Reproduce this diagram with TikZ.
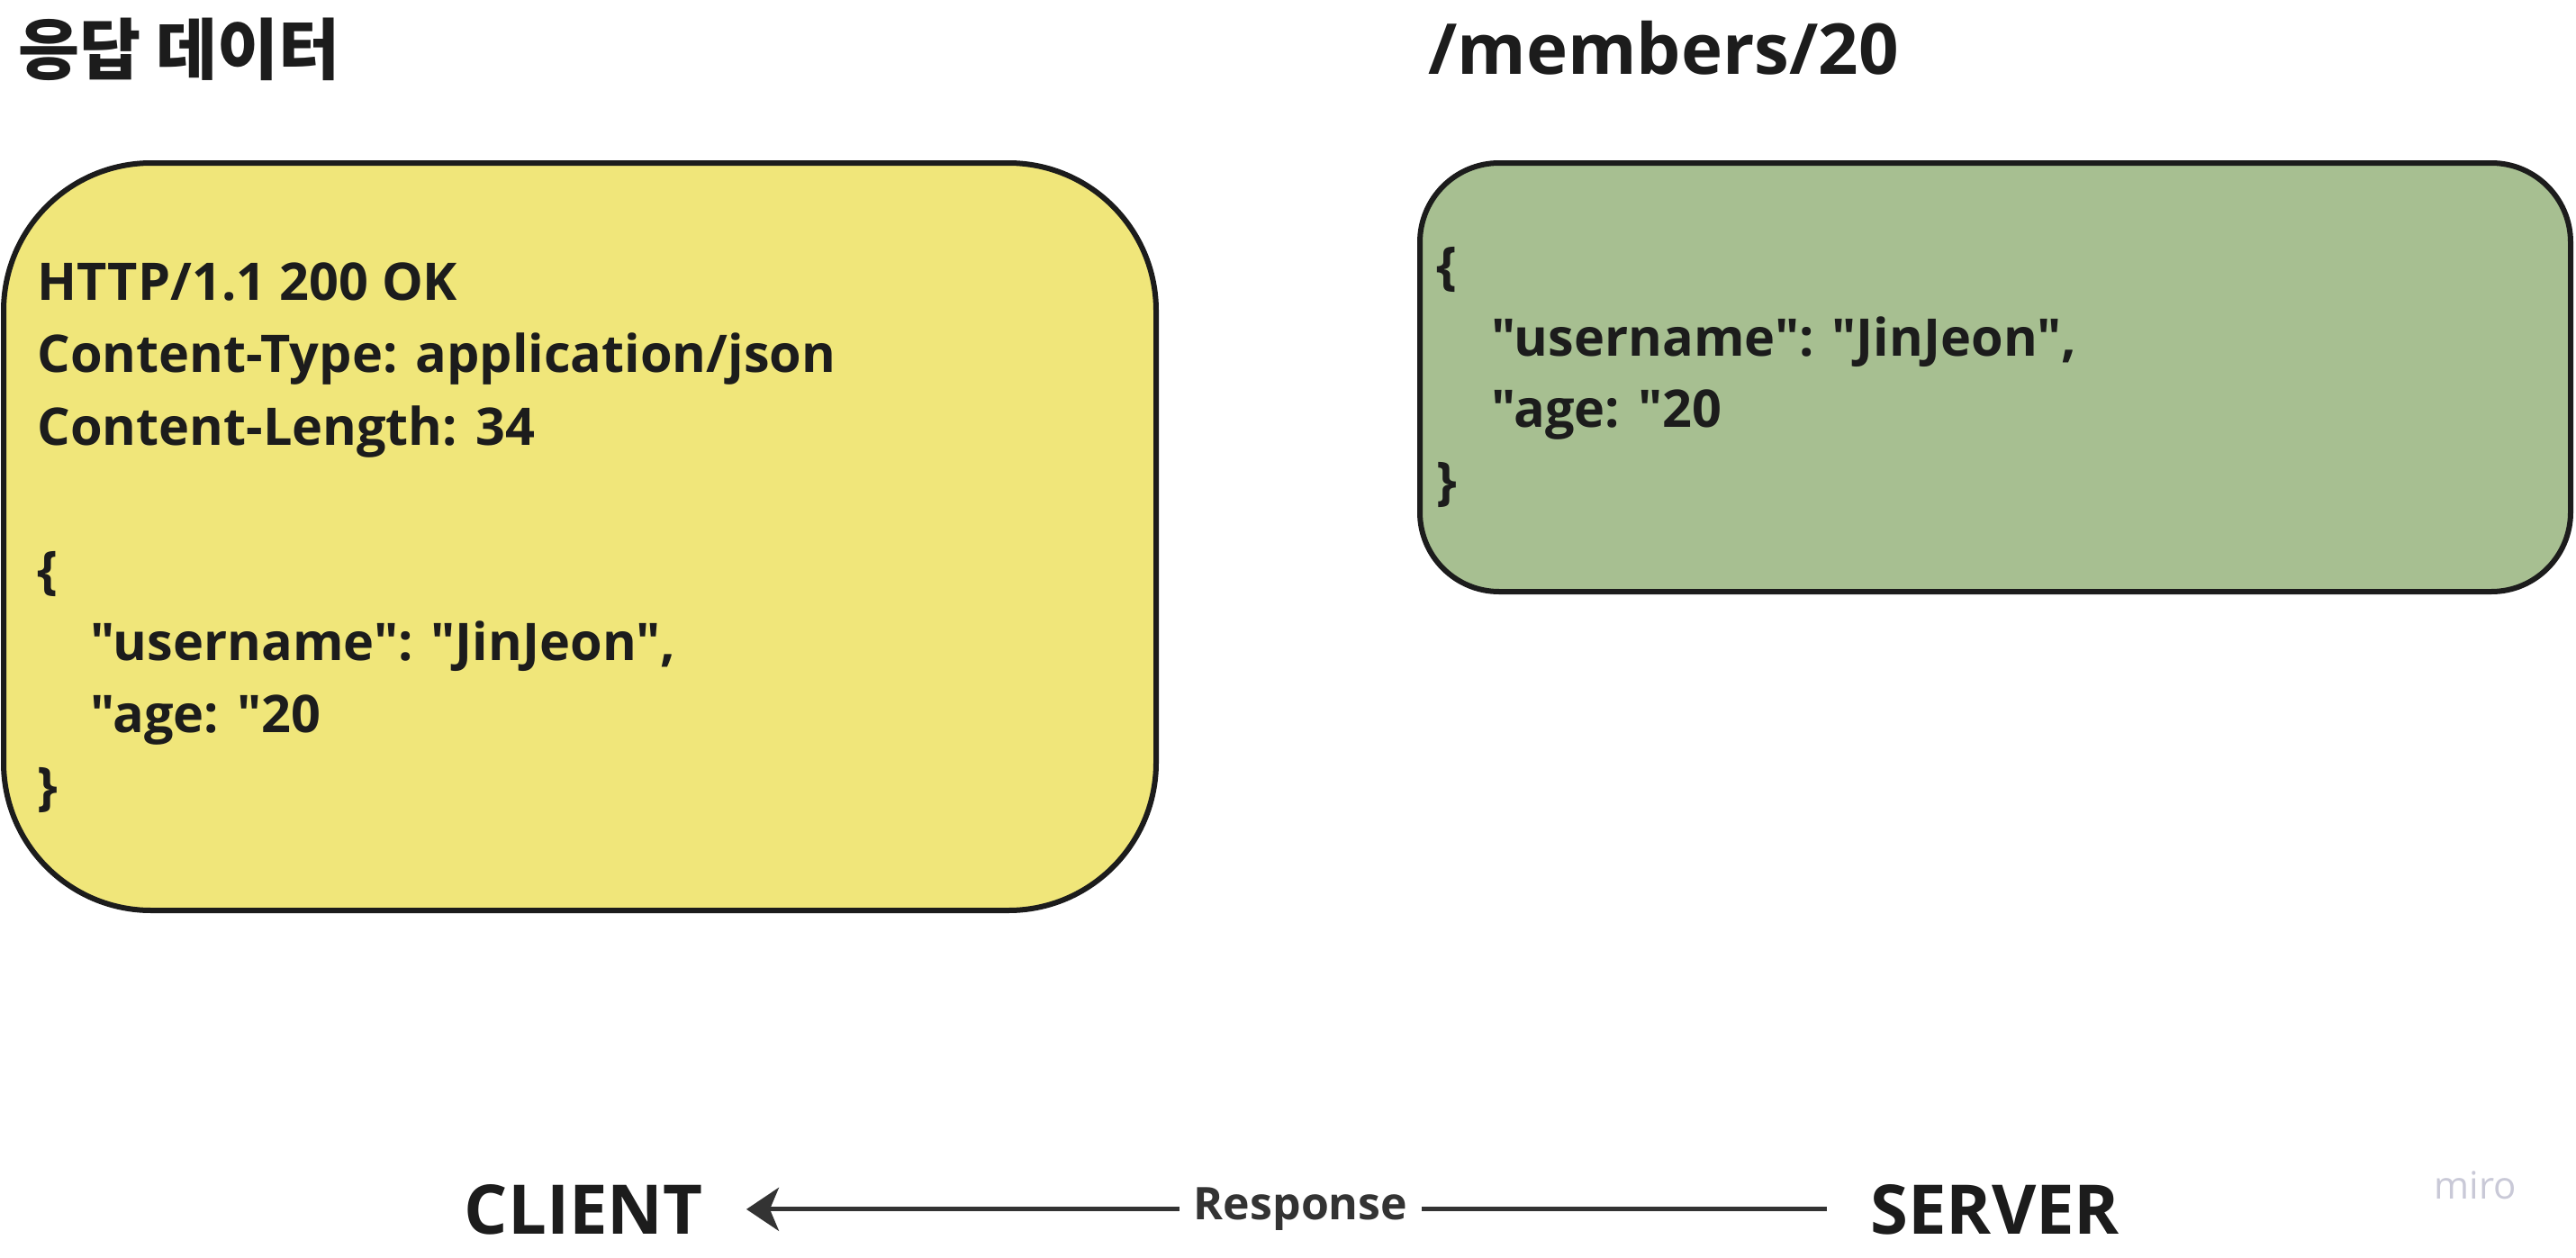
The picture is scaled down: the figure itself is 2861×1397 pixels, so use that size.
\documentclass[tikz,border=0pt]{standalone}
\usepackage{fontspec}
\setmainfont{Open Sans}
\newfontfamily\osans{Open Sans}
\newfontfamily\kofont{Noto Sans CJK KR}
\usepackage{xcolor}
\usetikzlibrary{arrows.meta}

\definecolor{ink}{HTML}{1C1C1C}
\definecolor{wire}{HTML}{333333}
\definecolor{respfill}{HTML}{F0E67A}
\definecolor{bodyfill}{HTML}{A7BF91}
\definecolor{logo}{HTML}{C9C9D7}

\begin{document}
\begin{tikzpicture}[x=0.5pt,y=-0.5pt,
  box/.style={draw=ink,line width=3pt,inner sep=0pt},
  txt/.style={anchor=base west,inner sep=0pt,text=ink,font=\osans\fontsize{28.8}{34}\selectfont\bfseries},
  head/.style={anchor=base west,inner sep=0pt,text=ink,font=\osans\fontsize{39}{46}\selectfont\bfseries},
  peer/.style={inner ysep=0pt,inner xsep=24pt,text=ink,font=\osans\fontsize{38}{46}\selectfont\bfseries}]
  \useasboundingbox (0,0) rectangle (2861,1397);

  % titles
  \node[head,font=\kofont\fontsize{37}{44}\selectfont\bfseries] (title) at (20,82) {응답 데이터};
  \node[head] (path) at (1586,83) {/members/20};

  % response message
  \node[box,fill=respfill,minimum width=640pt,minimum height=415pt,rounded corners=82pt] (resp) at (644,596) {};
  \node[txt] (h1) at (41,333) {HTTP/1.1 200 OK};
  \node[txt] (h2) at (41,413) {Content-Type: application/json};
  \node[txt] (h3) at (41,494) {Content-Length: 34};
  \node[txt] (ob1) at (41,653) {\{};
  \node[txt] (u1) at (100,733) {"username": "JinJeon",};
  \node[txt] (a1) at (100,813) {"age: "20};
  \node[txt] (cb1) at (41,893) {\}};

  % member body
  \node[box,fill=bodyfill,minimum width=639pt,minimum height=238pt,rounded corners=44pt] (body) at (2216,419) {};
  \node[txt] (ob2) at (1595,315) {\{};
  \node[txt] (u2) at (1656,395) {"username": "JinJeon",};
  \node[txt] (a2) at (1656,474) {"age: "20};
  \node[txt] (cb2) at (1595,554) {\}};

  % client / server
  \node[peer,anchor=base east] (client) at (829,1370) {CLIENT};
  \node[peer,anchor=base west] (server) at (2029,1370) {SERVER};
  \draw[wire,line width=2.5pt,-{Stealth[length=18pt,width=24pt,inset=5pt]}] (server) -- (client)
    node[pos=0.487,fill=white,inner xsep=8pt,inner ysep=2pt,text=wire,font=\osans\fontsize{25}{30}\selectfont\bfseries] (msg) {Response};

  \node[anchor=base west,inner sep=0pt,text=logo,font=\osans\fontsize{21}{25}\selectfont] (miro) at (2703,1331) {miro};
\end{tikzpicture}
\end{document}
